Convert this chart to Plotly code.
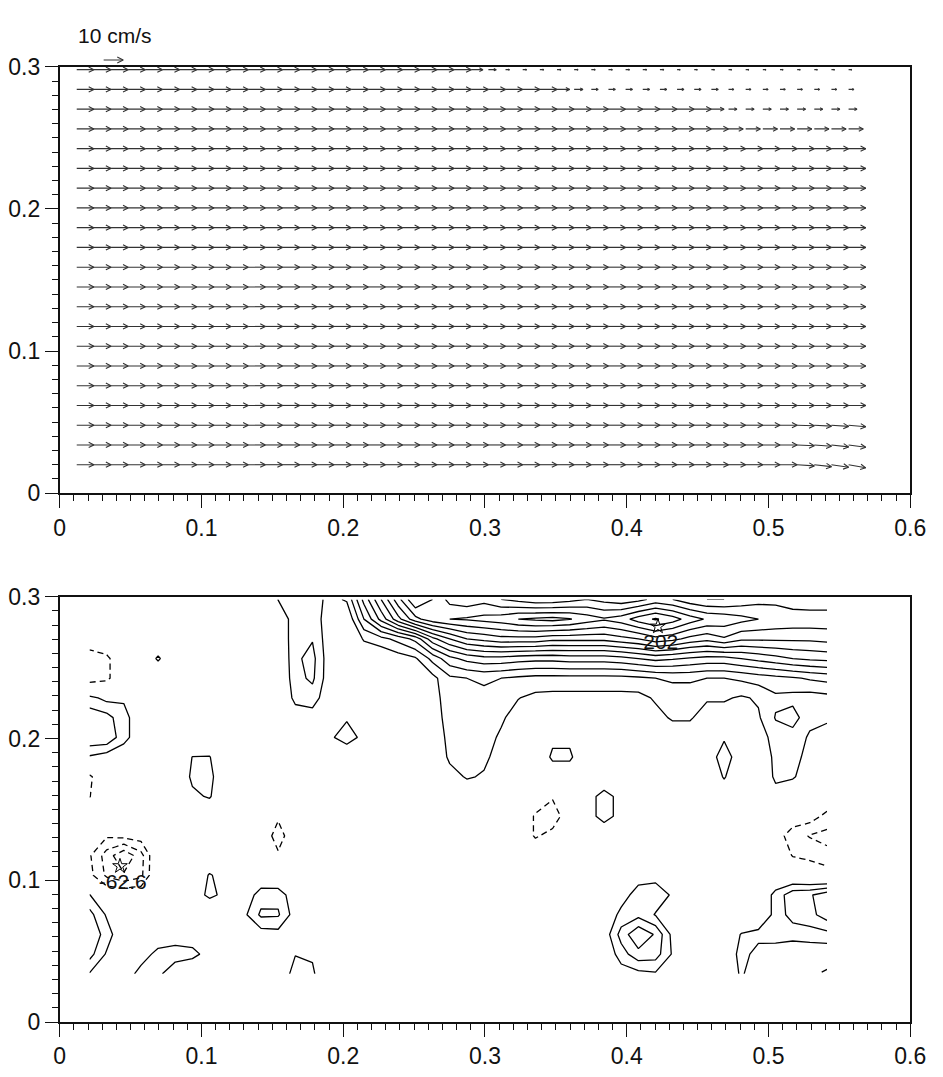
import plotly.graph_objects as go
import plotly.figure_factory as ff

FONT = "Liberation Sans, Arial, sans-serif"
INK = "#111111"

# ---------------- top panel: velocity field (cm/s) ----------------
vec_x = [0.012, 0.0241, 0.0362, 0.0483, 0.0604, 0.0725, 0.0846, 0.0967, 0.1088, 0.1209,
         0.133, 0.1451, 0.1572, 0.1693, 0.1814, 0.1935, 0.2056, 0.2177, 0.2298, 0.2419,
         0.254, 0.2661, 0.2782, 0.2903, 0.3024, 0.3145, 0.3266, 0.3387, 0.3508, 0.3629,
         0.375, 0.3871, 0.3992, 0.4113, 0.4234, 0.4355, 0.4476, 0.4597, 0.4718, 0.4839,
         0.496, 0.5081, 0.5202, 0.5323, 0.5444, 0.5565]
vec_y = [0.020, 0.0339, 0.0478, 0.0617, 0.0756, 0.0895, 0.1034, 0.1173, 0.1312, 0.1451,
         0.159, 0.1729, 0.1868, 0.2007, 0.2146, 0.2285, 0.2424, 0.2563, 0.2702, 0.2841, 0.298]
# horizontal speed per row (bottom -> top), as runs of (count, value)
u_runs = [[(46, 8.8)]] * 17 + [
    [(38, 8.8), (8, 7.5)],
    [(37, 8.8), (1, 6.5), (8, 4.3)],
    [(28, 8.8), (1, 6.5), (1, 4.5), (8, 3.5), (8, 2.7)],
    [(23, 8.8), (1, 6.0), (1, 4.0), (10, 2.0), (11, 1.6)],
]
# vertical speed of the last four columns in the lowest rows
v_tail = {0: [-0.6, -1.0, -1.3, -1.6], 1: [-0.4, -0.7, -1.0, -1.2], 2: [-0.3, -0.5, -0.6, -0.8]}

key_x, key_y, key_u, key_label = 0.031, 0.3047, 10.0, "10 cm/s"

# ---------------- bottom panel: vorticity field ----------------
vort_x = [0.021, 0.0331, 0.0452, 0.0573, 0.0694, 0.0815, 0.0936, 0.1057, 0.1178, 0.1299,
          0.142, 0.1541, 0.1662, 0.1783, 0.1904, 0.2025, 0.2146, 0.2267, 0.2388, 0.2509,
          0.263, 0.2751, 0.2872, 0.2993, 0.3114, 0.3235, 0.3356, 0.3477, 0.3598, 0.3719,
          0.384, 0.3961, 0.4082, 0.4203, 0.4324, 0.4445, 0.4566, 0.4687, 0.4808, 0.4929,
          0.505, 0.5171, 0.5292, 0.5413]
vort_y = [0.034, 0.0479, 0.0618, 0.0757, 0.0896, 0.1035, 0.1174, 0.1313, 0.1452, 0.1591,
          0.173, 0.1869, 0.2008, 0.2147, 0.2286, 0.2425, 0.2564, 0.2703, 0.2842, 0.2981]
vort = [
    [19, 5, 10, 26, 24, 8, 0, 0, 0, 0, 0, 0, 30, 24, -5, 0, 0, 0, 0, 0, 0, 0, 0, 0, 0, 0, 0, 0, 0, 0, 0, 12, 15, 18, 10, 0, 0, 8, 22, 10, 0, 0, -12, -28],
    [41, 18, 0, 12, 25, 28, 26, 12, 0, 0, 0, 0, 19, 17, 0, 0, 0, 0, 0, 0, 0, 0, 0, 0, 0, 0, 0, 0, 0, 0, 5, 28, 45, 42, 18, 0, 0, 5, 26, 14, 10, 10, 8, 8],
    [48, 28, 5, 0, 8, 10, 8, 0, 0, 0, 12, 14, 0, 0, 0, 0, 0, 0, 0, 0, 0, 0, 0, 0, 0, 0, 0, 0, 0, 0, 10, 41, 63, 48, 15, 0, 0, 5, 21, 25, 28, 25, 28, 30],
    [40.5, 18, 0, 0, 0, 0, 0, 0, 0, 16, 38, 37, 12, 0, 0, 0, 0, 0, 0, 0, 0, 0, 0, 0, 0, 0, 0, 0, 0, 0, 5, 25, 30, 19, 12, 0, 0, 0, 0, 5, 25, 42, 45, 58],
    [21, -5, -5, -5, 0, 0, 10, 24, 15, 8, 28, 30, 8, 0, 0, 0, 0, 0, 0, 0, 0, 0, 0, 0, 0, 0, 0, 0, 0, 0, 0, 12, 28, 28, 18, 0, 0, 0, 0, 5, 25, 45, 48, 60],
    [-15, -38, -48, -39, 0, 0, 0, 22, 10, 0, 5, 0, 0, 0, 0, 0, 0, 0, 0, 0, 0, 0, 0, 0, 0, 0, 0, 0, 0, 0, 0, 0, 12, 15, 0, 0, 0, 0, 0, 0, 5, 0, -5, -11],
    [-18, -42, -62.6, -41, 0, 0, 0, 0, 0, 0, 0, -18, 0, 0, 0, 0, 0, 0, 0, 0, 0, 0, 0, 0, 0, 0, -5, -3, 0, 0, 0, 0, 0, 0, 0, 0, 0, 0, 0, 0, -5, -21, -25, -30],
    [-12, -18, -15, -12, 0, 0, 0, 0, 0, 0, -10, -26, -10, 0, 0, 0, 0, 0, 0, 0, 0, 0, 0, 0, 0, -5, -22, -14, 0, 0, 5, 0, 0, 0, 0, 0, 0, 0, 0, 0, -12, -28, -36, -40],
    [0, 0, 0, 0, 0, 0, 0, 0, 0, 0, 0, -18, 0, 0, 0, 0, 0, 0, 0, 0, 0, 0, 0, 0, 0, -5, -22, -30, -8, 12, 27, 14, 0, 0, 0, 0, 0, 0, 0, 0, 0, -10, -12, -25],
    [-21, 0, 0, 0, 0, 0, 16, 22, 0, 0, 0, 0, 0, 0, 0, 0, 0, 0, 0, 0, 0, 0, 5, 0, 0, 0, -8, -18, -8, 12, 27, 14, 0, 0, 0, 0, 0, 5, 0, 0, 12, 5, 0, -5],
    [-24, 0, 0, 0, 0, 0, 24, 26, 0, 0, 0, 0, 0, 0, 0, 0, 0, 0, 0, 0, 0, 12, 22, 18, 0, 0, 0, 5, 5, 0, 5, 0, 0, 0, 0, 0, 0, 22, 0, 0, 24, 22, 10, 0],
    [18, 12, 10, 0, 0, 0, 20.5, 21, 0, 0, 0, 0, 0, 0, 0, 5, 0, 0, 0, 0, 0, 24, 26, 24, 12, 0, 0, 24, 24, 0, 0, 0, 0, 0, 0, 0, 10, 28, 10, 0, 26, 25, 15, 0],
    [48, 48, 25, 10, 0, 0, 0, 0, 0, 0, 0, 0, 0, 0, 17, 28, 15, 0, 0, 0, 8, 25, 28, 25, 18, 8, 5, 15, 15, 5, 5, 5, 5, 5, 10, 10, 5, 18, 5, 10, 28, 28, 18, 15],
    [45, 41, 25, 10, 0, 0, 0, 0, 0, 0, 0, 0, 10, 12, 0, 18, 0, 0, 0, 0, 10, 28, 30, 28, 22, 14, 8, 8, 8, 8, 8, 8, 8, 15, 22, 22, 12, 12, 10, 18, 36, 42, 24, 22],
    [25, 15, 18, 0, 0, 0, 0, 0, 0, 0, 0, 0, 25, 28, 8, 0, 0, 0, 0, 0, 12, 30, 30, 30, 26, 20.5, 16, 15, 15, 15, 15, 15, 15, 22, 25, 25, 22, 22, 18, 22, 32, 30, 28, 30],
    [-32, -25, 0, 0, 0, 0, 0, 0, 0, 0, 0, 0, 30, 38, 10, 0, 0, 0, 0, 5, 15, 32, 35, 38, 35, 32, 30, 30, 30, 30, 30, 30, 32, 35, 38, 38, 35, 35, 38, 42, 45, 48, 52, 55],
    [-32, -25, 0, 0, 23, 0, 0, 0, 0, 0, 0, 0, 32, 40, 10, 0, 5, 5, 12, 18, 40, 60, 70, 75, 75, 72, 70, 70, 72, 72, 72, 75, 80, 85, 82, 78, 75, 75, 80, 85, 90, 95, 98, 100],
    [-5, 0, 0, 0, 0, 0, 0, 0, 0, 0, 0, 8, 28, 34, 10, 0, 22, 30, 40, 55, 90, 110, 125, 130, 135, 135, 135, 130, 130, 130, 130, 135, 140, 150, 145, 135, 130, 138, 128, 128, 128, 128, 128, 130],
    [0, 0, 0, 0, 0, 0, 0, 0, 0, 0, 0, 8, 28, 30, 10, 5, 50, 85, 120, 150, 165, 170, 172, 175, 178, 185, 188, 190, 186, 178, 172, 178, 192, 202, 192, 178, 168, 165, 160, 155, 152, 150, 150, 150],
    [0, 0, 0, 0, 0, 0, 0, 0, 0, 0, 0, 20.5, 25, 28, 15, 22, 70, 110, 150, 185, 170, 150, 145, 150, 140, 135, 130, 130, 135, 140, 135, 130, 135, 145, 140, 130, 125, 125, 130, 135, 135, 130, 128, 128],
]
pos_levels = dict(start=20, end=200, size=15)
neg_levels = dict(start=-50, end=-20, size=15)
extremes_x = [0.422, 0.0425]
extremes_y = [0.279, 0.110]
extremes_val = [202, -62.6]

x_ticks = [0, 0.1, 0.2, 0.3, 0.4, 0.5, 0.6]
x_tick_text = ["0", "0.1", "0.2", "0.3", "0.4", "0.5", "0.6"]
y_ticks = [0, 0.1, 0.2, 0.3]
y_tick_text = ["0", "0.1", "0.2", "0.3"]

# ---------------- build vectors ----------------
X, Y, U, V = [], [], [], []
for k, yv in enumerate(vec_y):
    row_u = []
    for cnt, val in u_runs[k]:
        row_u += [val] * cnt
    row_v = [0.0] * len(vec_x)
    if k in v_tail:
        row_v[-len(v_tail[k]):] = v_tail[k]
    for j, xv in enumerate(vec_x):
        X.append(xv); Y.append(yv); U.append(row_u[j]); V.append(row_v[j])

SCALE = 0.001377
quiv = ff.create_quiver(X, Y, U, V, scale=SCALE, arrow_scale=0.34, angle=0.47,
                        line=dict(color="#333333", width=1.1))
fig = go.Figure()
t = quiv.data[0]
t.update(xaxis="x", yaxis="y", hoverinfo="skip", showlegend=False)
fig.add_trace(t)

keyq = ff.create_quiver([key_x], [key_y], [key_u], [0.0], scale=SCALE, arrow_scale=0.34, angle=0.47,
                        line=dict(color="#333333", width=1.1))
tk = keyq.data[0]
tk.update(xaxis="x3", yaxis="y3", hoverinfo="skip", showlegend=False)
fig.add_trace(tk)

# ---------------- contours ----------------
fig.add_trace(go.Contour(x=vort_x, y=vort_y, z=vort, xaxis="x2", yaxis="y2",
                         autocontour=False, contours=dict(coloring="none", **pos_levels),
                         line=dict(color="black", width=1.3, smoothing=0),
                         showscale=False, hoverinfo="skip"))
fig.add_trace(go.Contour(x=vort_x, y=vort_y, z=vort, xaxis="x2", yaxis="y2",
                         autocontour=False, contours=dict(coloring="none", **neg_levels),
                         line=dict(color="black", width=1.3, dash="6px,4px", smoothing=0),
                         showscale=False, hoverinfo="skip"))
fig.add_trace(go.Scatter(x=extremes_x, y=extremes_y, mode="markers", xaxis="x2", yaxis="y2",
                         marker=dict(symbol="star-open", size=11, color="black", line=dict(width=1)),
                         hoverinfo="skip", showlegend=False))
fig.add_trace(go.Scatter(x=[v + 0.002 for v in extremes_x], y=[v - 0.0125 for v in extremes_y],
                         mode="text", text=[f"{v:g}" for v in extremes_val], xaxis="x2", yaxis="y2",
                         textfont=dict(family=FONT, size=21, color=INK),
                         hoverinfo="skip", showlegend=False))

# ---------------- layout ----------------
XD = [55 / 943, 926 / 943]
axis_common = dict(showline=True, linewidth=1.7, linecolor=INK, mirror=True,
                   showgrid=False, zeroline=False, ticks="outside", ticklen=13,
                   tickwidth=1.3, tickcolor=INK, ticklabeloverflow="allow",
                   tickfont=dict(family=FONT, size=23, color=INK),
                   minor=dict(tickmode="linear", tick0=0, dtick=0.01, ticks="outside",
                              ticklen=6, tickwidth=1, tickcolor=INK, showgrid=False))
xa = dict(axis_common, range=[0, 0.6001], domain=XD, tickmode="array",
          tickvals=x_ticks, ticktext=x_tick_text)
ya = dict(axis_common, range=[0, 0.3001], tickmode="array", tickvals=y_ticks, ticktext=y_tick_text)

fig.update_layout(
    width=943, height=1077, margin=dict(l=0, r=0, t=0, b=0),
    paper_bgcolor="white", plot_bgcolor="white", showlegend=False,
    xaxis=dict(xa, anchor="y"),
    yaxis=dict(ya, domain=[(1077 - 492) / 1077, (1077 - 55) / 1077], anchor="x"),
    xaxis2=dict(xa, anchor="y2"),
    yaxis2=dict(ya, domain=[(1077 - 1034) / 1077, (1077 - 598) / 1077], anchor="x2"),
    xaxis3=dict(range=[0, 0.6001], domain=XD, visible=False, anchor="y3"),
    yaxis3=dict(range=[0.3, 0.3 + 55 / 1457], domain=[(1077 - 55) / 1077, 1.0], visible=False, anchor="x3"),
    annotations=[dict(x=0.0117, y=0.3219, xref="x3", yref="y3", text=key_label, showarrow=False,
                      xanchor="left", yanchor="middle",
                      font=dict(family=FONT, size=21, color=INK))],
)

fig.write_html("out.html")
